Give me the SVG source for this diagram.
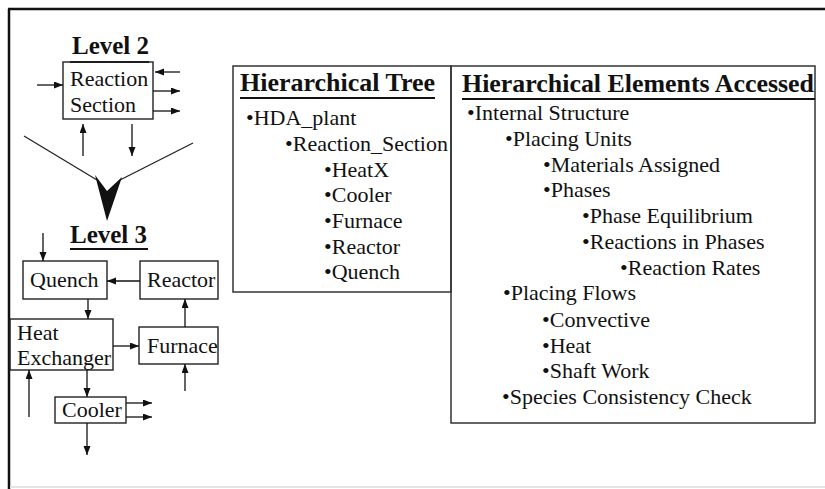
<svg xmlns="http://www.w3.org/2000/svg" width="825" height="489" viewBox="0 0 825 489">
<defs>
<marker id="ah" markerUnits="userSpaceOnUse" markerWidth="10" markerHeight="8" refX="9" refY="3.5" orient="auto">
<path d="M0,0 L9,3.5 L0,7 z" fill="#111"/>
</marker>
<style>
.t{font-family:"Liberation Serif","Times New Roman",serif;font-size:22px;fill:#111}
.h{font-family:"Liberation Serif","Times New Roman",serif;font-size:25px;font-weight:bold;fill:#111}
.box{fill:none;stroke:#222;stroke-width:1.4}
.pbox{fill:none;stroke:#333;stroke-width:1.5}
.c{fill:none;stroke:#111;stroke-width:1.3;marker-end:url(#ah)}
.v{fill:none;stroke:#222;stroke-width:1.3}
.ul{stroke:#111;stroke-width:2}
</style>
</defs>
<rect width="825" height="489" fill="#fff"/>
<g id="frame">
<line x1="9" y1="9" x2="9" y2="489" stroke="#111" stroke-width="2.5"/>
<line x1="8" y1="9" x2="825" y2="9" stroke="#111" stroke-width="2.5"/>
<line x1="10" y1="487" x2="825" y2="487" stroke="#e4e4e4" stroke-width="2"/>
</g>
<g id="level2">
<text class="h" x="72" y="54">Level 2</text>
<line class="ul" x1="70" y1="62" x2="149" y2="62"/>
</g>
<g id="reaction-section">
<rect class="box" x="63" y="62" width="90" height="57"/>
<text class="t" x="70" y="86">Reaction</text>
<text class="t" x="70" y="112">Section</text>
</g>
<g id="level-arrow">
<line class="v" x1="24" y1="136" x2="97" y2="180"/>
<line class="v" x1="193" y1="143" x2="120" y2="180"/>
<path d="M95,175 L107,191 L122,177 L107,221 Z" fill="#111"/>
</g>
<g id="level3">
<text class="h" x="70" y="243">Level 3</text>
<line class="ul" x1="70" y1="249" x2="148" y2="249"/>
</g>
<g id="quench">
<rect class="box" x="23" y="261" width="84" height="38"/>
<text class="t" x="30" y="287">Quench</text>
</g>
<g id="reactor">
<rect class="box" x="140" y="261" width="78" height="38"/>
<text class="t" x="147" y="287">Reactor</text>
</g>
<g id="heat-exchanger">
<rect class="box" x="10" y="319" width="103" height="51"/>
<text class="t" x="17" y="340">Heat</text>
<text class="t" x="17" y="365">Exchanger</text>
</g>
<g id="furnace">
<rect class="box" x="139" y="327" width="79" height="37"/>
<text class="t" x="147" y="353">Furnace</text>
</g>
<g id="cooler">
<rect class="box" x="55" y="397" width="71" height="26"/>
<text class="t" x="62" y="417">Cooler</text>
</g>
<g id="connectors">
<line class="c" x1="37" y1="85" x2="63" y2="85"/>
<line class="c" x1="180" y1="72" x2="155" y2="72"/>
<line class="c" x1="153" y1="91" x2="180" y2="91"/>
<line class="c" x1="153" y1="111" x2="180" y2="111"/>
<line class="c" x1="83" y1="156" x2="83" y2="124"/>
<line class="c" x1="132" y1="124" x2="132" y2="156"/>
<line class="c" x1="43" y1="233" x2="43" y2="261"/>
<line class="c" x1="140" y1="281" x2="107" y2="281"/>
<line class="c" x1="88" y1="299" x2="88" y2="319"/>
<line class="c" x1="113" y1="346" x2="139" y2="346"/>
<line class="c" x1="185" y1="327" x2="185" y2="299"/>
<line class="c" x1="185" y1="391" x2="185" y2="364"/>
<line class="c" x1="29" y1="417" x2="29" y2="370"/>
<line class="c" x1="87" y1="370" x2="87" y2="397"/>
<line class="c" x1="126" y1="403" x2="152" y2="403"/>
<line class="c" x1="126" y1="417" x2="152" y2="417"/>
<line class="c" x1="87" y1="423" x2="87" y2="455"/>
</g>
<g id="tree-box">
<rect class="pbox" x="233" y="66" width="218" height="226"/>
<text class="h" x="240" y="91" textLength="195" lengthAdjust="spacingAndGlyphs">Hierarchical Tree</text>
<line class="ul" x1="240" y1="98" x2="435" y2="98"/>
<text class="t" x="246" y="125">•HDA_plant</text>
<text class="t" x="285" y="151">•Reaction_Section</text>
<text class="t" x="324" y="177">•HeatX</text>
<text class="t" x="324" y="202">•Cooler</text>
<text class="t" x="324" y="228">•Furnace</text>
<text class="t" x="324" y="254">•Reactor</text>
<text class="t" x="324" y="279">•Quench</text>
</g>
<g id="elements-box">
<rect class="pbox" x="451" y="66" width="364" height="357"/>
<text class="h" x="462" y="92" textLength="352" lengthAdjust="spacingAndGlyphs">Hierarchical Elements Accessed</text>
<line class="ul" x1="462" y1="99" x2="815" y2="99"/>
<text class="t" x="467" y="120">•Internal Structure</text>
<text class="t" x="505" y="146">•Placing Units</text>
<text class="t" x="543" y="172">•Materials Assigned</text>
<text class="t" x="543" y="197">•Phases</text>
<text class="t" x="582" y="223">•Phase Equilibrium</text>
<text class="t" x="582" y="249">•Reactions in Phases</text>
<text class="t" x="620" y="275">•Reaction Rates</text>
<text class="t" x="503" y="300">•Placing Flows</text>
<text class="t" x="542" y="327">•Convective</text>
<text class="t" x="542" y="353">•Heat</text>
<text class="t" x="542" y="378">•Shaft Work</text>
<text class="t" x="502" y="404">•Species Consistency Check</text>
</g>
</svg>
